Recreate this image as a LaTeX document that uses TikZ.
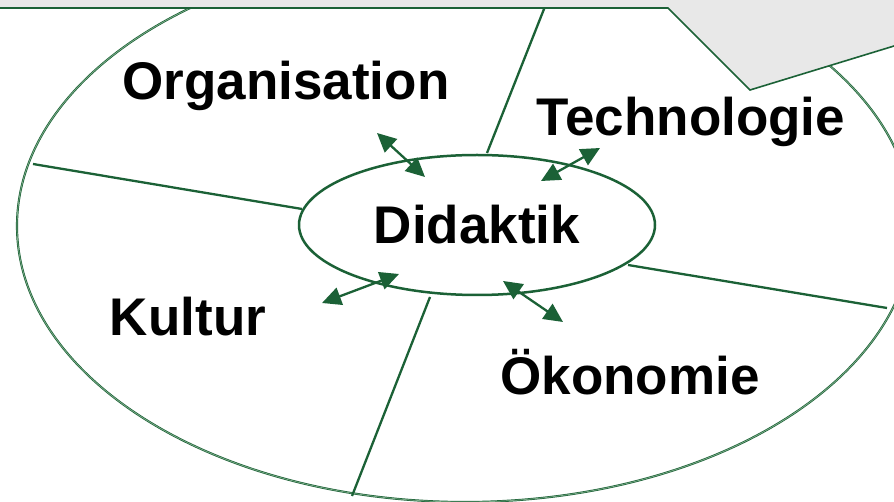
\documentclass[tikz,border=0pt]{standalone}
\usepackage{fontspec}
\setmainfont{Liberation Sans}
\usetikzlibrary{arrows.meta,shapes.geometric}
\definecolor{dgreen}{HTML}{1B6136}
\definecolor{lgreen}{HTML}{7FAE8C}
\definecolor{bargray}{HTML}{E8E8E8}
\begin{document}
\begin{tikzpicture}[x=1pt,y=-1pt,
  lbl/.style={font=\fontsize{53}{60}\selectfont\bfseries, anchor=base, inner sep=0pt},
  divider/.style={draw=dgreen, line width=2.3pt},
  dblarrow/.style={draw=dgreen, line width=2.3pt, {Triangle[length=19pt,width=18pt]}-{Triangle[length=19pt,width=18pt]}},
  outer/.style={draw=dgreen, line width=0.7pt, double=lgreen, double distance=0.7pt},
  inner/.style={ellipse, draw=dgreen, line width=2.5pt, minimum width=356pt, minimum height=140pt, inner sep=0pt, font=\fontsize{53}{60}\selectfont\bfseries}]
\useasboundingbox (0,0) rectangle (894,502);
\clip (0,0) rectangle (894,502);
\fill[white] (0,0) rectangle (894,502);
% outer ellipse
\draw[outer] (465,226) ellipse [x radius=448, y radius=276];
% divider coordinates
\coordinate (t1) at (487,153); \coordinate (t2) at (546,4);
\coordinate (l1) at (302,209); \coordinate (l2) at (33,164);
\coordinate (r1) at (628,265); \coordinate (r2) at (887,308);
\coordinate (b1) at (430,297); \coordinate (b2) at (352,496);
\draw[divider] (t1) -- (t2);
\draw[divider] (l1) -- (l2);
\draw[divider] (r1) -- (r2);
\draw[divider] (b1) -- (b2);
% centre
\node[inner] (did) at (477,225) {Didaktik};
% labels
\node[lbl] (org) at (286,100) {Organisation};
\node[lbl] (tech) at (691,136) {Technologie};
\node[lbl] (kul) at (188,336) {Kultur};
\node[lbl] (oek) at (630,395) {Ökonomie};
% arrows
\coordinate (a1s) at (377,133); \coordinate (a1e) at (425,177);
\coordinate (a2s) at (600,148); \coordinate (a2e) at (541,181);
\coordinate (a3s) at (322,303); \coordinate (a3e) at (399,274);
\coordinate (a4s) at (503,281); \coordinate (a4e) at (563,322);
\draw[dblarrow] (a1s) -- (a1e);
\draw[dblarrow] (a2s) -- (a2e);
\draw[dblarrow] (a3s) -- (a3e);
\draw[dblarrow] (a4s) -- (a4e);
% top bar / page corner
\coordinate (p1) at (0,8); \coordinate (p2) at (668,8);
\coordinate (p3) at (750,90); \coordinate (p4) at (894,46);
\fill[bargray] (0,0) -- (p1) -- (p2) -- (p3) -- (p4) -- (894,0) -- cycle;
\draw[dgreen, line width=1.6pt, line join=miter] (p1) -- (p2) -- (p3) -- (p4);
\end{tikzpicture}
\end{document}
